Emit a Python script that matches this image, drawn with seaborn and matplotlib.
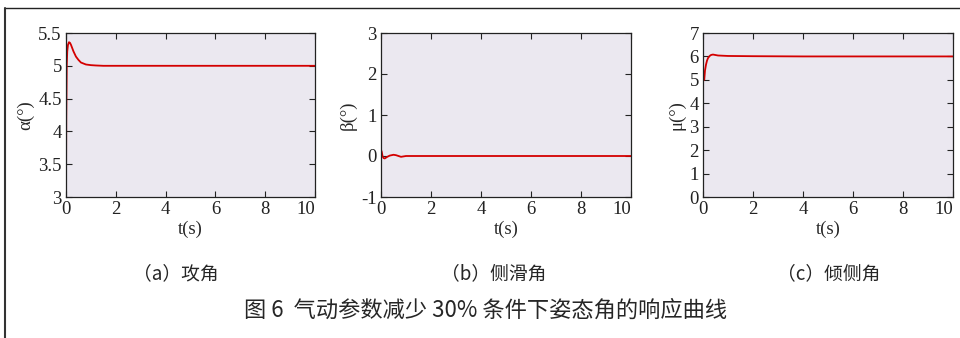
import matplotlib
matplotlib.use("Agg")
import matplotlib.pyplot as plt
from matplotlib.lines import Line2D
import numpy as np
import pandas as pd
import seaborn as sns

# ─── Data ──────────────────────────────────────────
alpha_t = [0.0, 0.01, 0.03, 0.05, 0.08, 0.12, 0.16, 0.2, 0.3, 0.4, 0.5, 0.6,
           0.8, 1.0, 1.2, 1.5, 2.0, 4.0, 10.0]
alpha_v = [3.0, 4.2, 5.0, 5.22, 5.32, 5.36, 5.35, 5.32, 5.22, 5.14, 5.09, 5.05,
           5.02, 5.01, 5.005, 5.0, 5.0, 5.0, 5.0]

beta_t = [0.0, 0.03, 0.06, 0.1, 0.15, 0.25, 0.35, 0.5, 0.6, 0.7, 0.8, 0.9,
          1.0, 1.5, 10.0]
beta_v = [0.15, 0.1, 0.0, -0.05, -0.06, -0.02, 0.01, 0.03, 0.02, 0.0, -0.02,
          -0.01, 0.0, 0.0, 0.0]

mu_t = [0.05, 0.08, 0.12, 0.16, 0.2, 0.25, 0.3, 0.35, 0.4, 0.5, 0.6, 0.8,
        1.0, 2.0, 4.0, 10.0]
mu_v = [5.0, 5.4, 5.65, 5.82, 5.93, 6.0, 6.05, 6.07, 6.08, 6.06, 6.04, 6.03,
        6.02, 6.01, 6.0, 6.0]

x_ticks = [0, 2, 4, 6, 8, 10]
panels = [
    ("α(°)", alpha_t, alpha_v, (3, 5.5), [3, 3.5, 4, 4.5, 5, 5.5],
     ["3", "3.5", "4", "4.5", "5", "5.5"], "（a）攻角"),
    ("β(°)", beta_t, beta_v, (-1, 3), [-1, 0, 1, 2, 3],
     ["-1", "0", "1", "2", "3"], "（b）侧滑角"),
    ("μ(°)", mu_t, mu_v, (0, 7), [0, 1, 2, 3, 4, 5, 6, 7],
     ["0", "1", "2", "3", "4", "5", "6", "7"], "（c）倾侧角"),
]
caption = "图 6  气动参数减少 30% 条件下姿态角的响应曲线"

# ─── Style ─────────────────────────────────
sns.set_theme(style="ticks")
plt.rcParams["font.family"] = ["Liberation Serif", "Noto Sans CJK SC", "DejaVu Sans"]
plt.rcParams["axes.unicode_minus"] = False

W, H = 960, 338
fig = plt.figure(figsize=(W / 100, H / 100), dpi=100)

# axes boxes in pixel coords: left, right, top, bottom
boxes = [(66, 315, 33, 197), (381, 631, 33, 197), (703, 953, 33, 197)]
sub_x = [176, 494, 829]
cjk = ["Noto Sans CJK SC", "DejaVu Sans"]

for (ylab, t, v, ylim, yt, ytl, sub), (l, r, tp, b), sx in zip(panels, boxes, sub_x):
    ax = fig.add_axes([l / W, 1 - b / H, (r - l) / W, (b - tp) / H])
    df = pd.DataFrame({"t": t, "v": v})
    sns.lineplot(data=df, x="t", y="v", ax=ax, color="#d40000", linewidth=1.3)
    ax.set_facecolor("#ebe8f0")
    ax.set_xlim(0, 10)
    ax.set_ylim(*ylim)
    ax.set_xticks(x_ticks)
    ax.set_xticklabels([str(x) for x in x_ticks])
    ax.set_yticks(yt)
    ax.set_yticklabels(ytl)
    ax.tick_params(direction="in", top=True, right=True, length=4, width=0.8,
                   labelsize=13.5, pad=3, colors="#222222")
    # last x label sits flush with the right edge, as in the original
    ax.get_xticklabels()[-1].set_horizontalalignment("right")
    ax.get_xticklabels()[-1].set_x(10)
    for s in ax.spines.values():
        s.set_linewidth(0.9)
        s.set_color("#222222")
    ax.set_xlabel("t(s)", fontsize=13.5, labelpad=2)
    ax.set_ylabel(ylab, fontsize=13.5, labelpad=3)
    fig.text(sx / W, 1 - 274 / H, sub, ha="center", va="center", fontsize=13.5,
             family=cjk)

fig.text(486 / W, 1 - 310 / H, caption, ha="center", va="center", fontsize=16,
         family=cjk)

# page frame lines (top and left)
fig.add_artist(Line2D([5 / W, 1], [1 - 8 / H, 1 - 8 / H], color="#222222", linewidth=1.0,
                      transform=fig.transFigure))
fig.add_artist(Line2D([5 / W, 5 / W], [0, 1 - 8 / H], color="#333333", linewidth=1.5,
                      transform=fig.transFigure))

fig.savefig("out.png", dpi=100)
